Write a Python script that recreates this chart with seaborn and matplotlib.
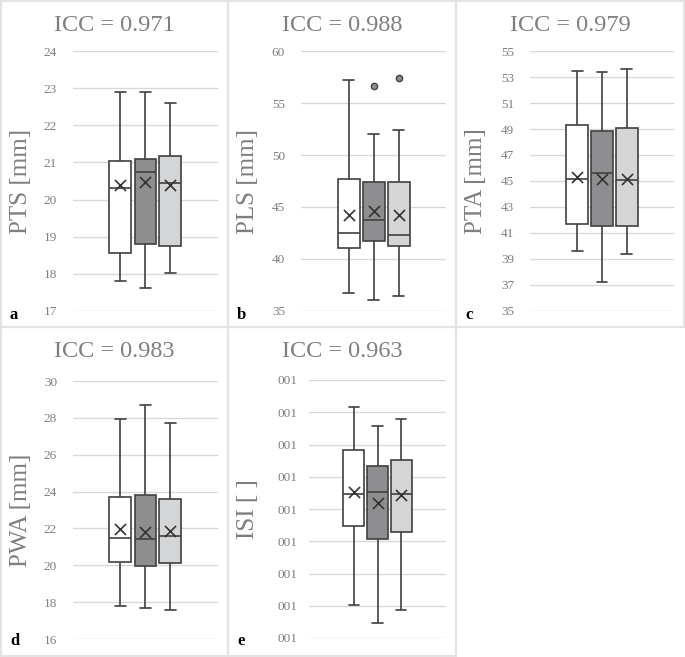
import numpy as np
import pandas as pd
import matplotlib
matplotlib.use("Agg")
import matplotlib.pyplot as plt
import seaborn as sns

sns.set_style("white")
plt.rcParams['font.family'] = ['Liberation Serif', 'DejaVu Serif']

# box stats per rater: [whisker low, Q1, median, Q3, whisker high]
raters = ["R1", "R2", "R3"]
pts_box = [[17.80, 18.57, 20.30, 21.04, 22.90],
           [17.61, 18.81, 20.75, 21.09, 22.90],
           [18.01, 18.76, 20.45, 21.16, 22.59]]
pts_mean = [20.40, 20.48, 20.39]
pls_box = [[36.73, 41.07, 42.54, 47.71, 57.18],
           [36.03, 41.71, 43.79, 47.36, 51.98],
           [36.44, 41.26, 42.32, 47.42, 52.43]]
pls_mean = [44.27, 44.66, 44.21]
pls_outliers = [None, 56.63, 57.40]
pta_box = [[39.65, 41.73, 45.19, 49.27, 53.49],
           [37.21, 41.57, 45.58, 48.86, 53.41],
           [39.42, 41.50, 45.04, 49.10, 53.61]]
pta_mean = [45.27, 45.14, 45.17]
pwa_box = [[17.80, 20.19, 21.47, 23.72, 27.93],
           [17.70, 19.95, 21.41, 23.81, 28.72],
           [17.59, 20.12, 21.57, 23.58, 27.73]]
pwa_mean = [21.95, 21.83, 21.86]
# ISI shown in tick units (axis labelled "001" at every step)
isi_box = [[1.03, 3.48, 4.46, 5.83, 7.15],
           [0.45, 3.08, 4.52, 5.33, 6.58],
           [0.87, 3.28, 4.48, 5.53, 6.79]]
isi_mean = [4.54, 4.20, 4.43]

icc = ["0.971", "0.988", "0.979", "0.983", "0.963"]
ylabels = ["PTS [mm]", "PLS [mm]", "PTA [mm]", "PWA [mm]", "ISI [ ]"]
letters = ["a", "b", "c", "d", "e"]
yticks = [np.arange(17, 25, 1), np.arange(35, 61, 5), np.arange(35, 56, 2),
          np.arange(16, 31, 2), np.arange(0, 9, 1)]

palette = {"R1": "#ffffff", "R2": "#8e8e90", "R3": "#d4d5d6"}
EDGE = "#404040"
GRAY = "#7f7f7f"

W, H = 685, 657
fig = plt.figure(figsize=(W / 100, H / 100), dpi=100)

# panel boxes in pixels: (left, top, width, height), axes (left, top, width, height)
panels = [((1, 1, 227, 326), (73, 51, 145, 260)),
          ((228, 1, 228, 326), (301, 51, 145, 260)),
          ((456, 1, 228, 326), (530, 51, 144, 260)),
          ((1, 327, 227, 329), (73, 381, 145, 258)),
          ((228, 327, 228, 329), (309, 380, 137, 258))]
tick_pad = [11.5, 11.5, 11.5, 11.5, 8.5]

datasets = [(pts_box, pts_mean, None), (pls_box, pls_mean, pls_outliers),
            (pta_box, pta_mean, None), (pwa_box, pwa_mean, None),
            (isi_box, isi_mean, None)]

for i, ((pl, pt, pw, ph), (al, at, aw, ah)) in enumerate(panels):
    fig.add_artist(plt.Rectangle((pl / W, 1 - (pt + ph) / H), pw / W, ph / H,
                                 transform=fig.transFigure, fill=False,
                                 edgecolor="#e3e3e3", linewidth=1.5))
    ax = fig.add_axes([al / W, 1 - (at + ah) / H, aw / W, ah / H])
    box, means, outl = datasets[i]
    df = pd.DataFrame({"rater": np.repeat(raters, 5),
                       "value": np.concatenate(box)})
    sns.boxplot(data=df, x="rater", y="value", hue="rater", palette=palette,
                width=0.88, whis=(0, 100), linewidth=1.2, linecolor=EDGE,
                legend=False, ax=ax, zorder=3)
    mdf = pd.DataFrame({"rater": raters, "value": means})
    sns.stripplot(data=mdf, x="rater", y="value", marker="x", color="#333333",
                  size=8, linewidth=1.2, jitter=False, ax=ax, zorder=5)
    if outl is not None:
        odf = pd.DataFrame({"rater": [r for r, o in zip(raters, outl) if o is not None],
                            "value": [o for o in outl if o is not None]})
        sns.stripplot(data=odf, x="rater", y="value", marker="o", color="#8e8e90",
                      edgecolor=EDGE, linewidth=1, size=4.5, jitter=False, ax=ax, zorder=5)
    ax.set_xlim(-1.9, 3.9)
    yt = yticks[i]
    ax.set_ylim(yt[0], yt[-1])
    ax.set_yticks(yt)
    if i == 4:
        ax.set_yticklabels(["001"] * len(yt))
    ax.set_xticks([])
    ax.set_xlabel("")
    ax.set_ylabel("")
    ax.tick_params(axis="y", length=0, pad=tick_pad[i], labelsize=9.5, labelcolor=GRAY)
    ax.grid(axis="y", color="#d9d9d9", linewidth=1, zorder=0)
    ax.set_axisbelow(True)
    sns.despine(ax=ax, left=True, bottom=True)

    fig.text((pl + pw / 2) / W, 1 - (pt + 30) / H, "ICC = " + icc[i],
             ha="center", va="baseline", fontsize=17.5, color=GRAY)
    fig.text((pl + 20) / W, 1 - (at + ah / 2) / H, ylabels[i], rotation=90,
             ha="center", va="center", fontsize=18, color=GRAY)
    fig.text((pl + 9) / W, 1 - (pt + 318) / H, letters[i], ha="left",
             va="baseline", fontsize=12, fontweight="bold", color="black")

fig.savefig("out.png", dpi=100, facecolor="white")
